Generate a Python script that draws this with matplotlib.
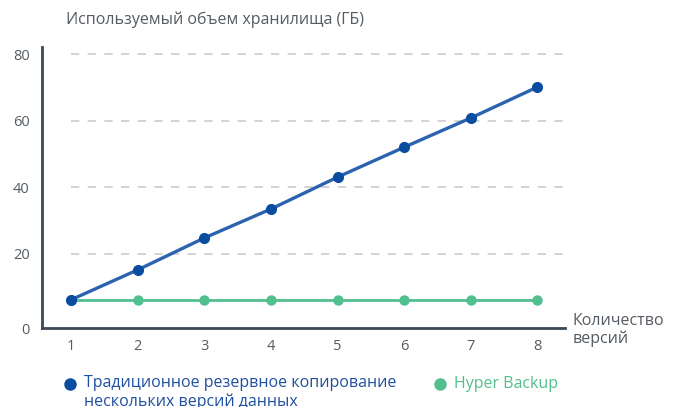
import matplotlib
matplotlib.use("Agg")
import matplotlib.pyplot as plt
from matplotlib.lines import Line2D

plt.rcParams['font.family'] = ['Open Sans', 'DejaVu Sans']

versions = [1, 2, 3, 4, 5, 6, 7, 8]
traditional = [6.2, 15.2, 24.8, 33.5, 43.1, 52.1, 60.9, 70.2]
hyper_backup = [6.2, 6.2, 6.2, 6.2, 6.2, 6.2, 6.2, 6.2]
y_ticks = [20, 40, 60, 80]
y_labels = ['20', '40', '60', '80']

blue_line = '#2c63b0'
blue_dot = '#0a4da0'
green = '#52bf8e'
text_gray = '#555b62'

fig = plt.figure(figsize=(6.78, 4.07), dpi=100)
ax = fig.add_axes([0.062, 0.194, 0.771, 0.691])

x_lo, x_hi = 0.565, 8.41
y_lo, y_hi = -2.3, 82.3

# dashed grid lines start at the first version
for t in y_ticks:
    ax.hlines(t, versions[0], x_hi, colors='#cccccc', linestyles=(0, (5, 5)), linewidth=1.2, zorder=1)

ax.plot(versions, hyper_backup, color=green, linewidth=2, marker='o', markersize=6.5,
        markerfacecolor=green, markeredgecolor=green, zorder=3)
ax.plot(versions, traditional, color=blue_line, linewidth=2.4, marker='o', markersize=7,
        markerfacecolor=blue_dot, markeredgecolor=blue_dot, zorder=4)

ax.set_xlim(x_lo, x_hi)
ax.set_ylim(y_lo, y_hi)
ax.set_xticks(versions)
ax.set_xticklabels([str(v) for v in versions])
ax.set_yticks([y_lo] + y_ticks)
ax.set_yticklabels(['0'] + y_labels)
ax.tick_params(length=0, labelsize=10.5, colors=text_gray, pad=9)
ax.tick_params(axis='x', pad=8)

for s in ['top', 'right']:
    ax.spines[s].set_visible(False)
for s in ['left', 'bottom']:
    ax.spines[s].set_color('#3b4856')
    ax.spines[s].set_linewidth(2)

fig.text(66 / 678, 1 - 20 / 407, 'Используемый объем хранилища (ГБ)', fontsize=11.5,
         color=text_gray, va='center', ha='left')
fig.text(573 / 678, 1 - 330 / 407, 'Количество\nверсий', fontsize=11.5,
         color=text_gray, va='center', ha='left', linespacing=1.05)

# legend
fig.add_artist(Line2D([70 / 678], [1 - 384 / 407], marker='o', markersize=8,
                      color=blue_dot, transform=fig.transFigure))
fig.text(84 / 678, 1 - 375 / 407, 'Традиционное резервное копирование\nнескольких версий данных',
         fontsize=11.5, color='#1f4fa0', va='top', ha='left', linespacing=1.2)
fig.add_artist(Line2D([440 / 678], [1 - 384 / 407], marker='o', markersize=8,
                      color=green, transform=fig.transFigure))
fig.text(454 / 678, 1 - 384 / 407, 'Hyper Backup', fontsize=11.5, color=green,
         va='center', ha='left')

fig.savefig('out.png', dpi=100)
